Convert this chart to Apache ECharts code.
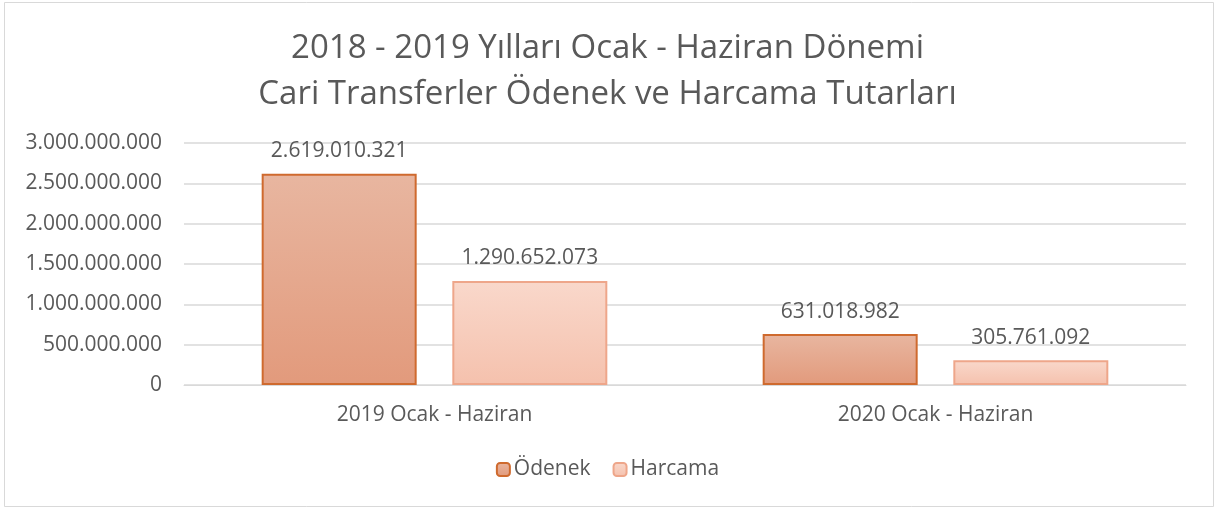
<!DOCTYPE html>
<html><head><meta charset="utf-8">
<script src="https://cdn.jsdelivr.net/npm/echarts@6/dist/echarts.min.js"></script>
<style>html,body{margin:0;padding:0;background:#fff}#c{width:1215px;height:508px}</style>
</head><body><div id="c"></div>
<script>
const titleLines = ["2018 - 2019 Yılları Ocak - Haziran Dönemi", "Cari Transferler Ödenek ve Harcama Tutarları"];
const categories = ["2019 Ocak - Haziran", "2020 Ocak - Haziran"];
const seriesNames = ["Ödenek", "Harcama"];
const odenek = [2619010321, 631018982];
const harcama = [1290652073, 305761092];
const yMax = 3000000000;
const yInterval = 500000000;

function fmt(v){ return String(Math.round(v)).replace(/\B(?=(\d{3})+(?!\d))/g, "."); }
const FONT = "Open Sans";
const chart = echarts.init(document.getElementById('c'), null, {renderer:'canvas'});
chart.setOption({
  backgroundColor:'#fff',
  animation:false,
  textStyle:{fontFamily:FONT},
  title:{
    text: titleLines.join("\n"), left:'center', top:21,
    textStyle:{fontFamily:FONT, fontSize:33, fontWeight:'normal', color:'#595959', lineHeight:46}
  },
  graphic:[{type:'rect', shape:{x:4.5,y:2.5,width:1209,height:504}, style:{fill:'none', stroke:'#d9d9d9', lineWidth:1}, silent:true}],
  legend:{
    data:seriesNames, bottom:23, left:'center', itemWidth:13, itemHeight:13, itemGap:22,
    textStyle:{fontFamily:FONT, fontSize:21, color:'#595959', padding:[0,0,0,-1]}
  },
  grid:{left:184, right:29, top:143, bottom:123},
  xAxis:{
    type:'category', data:categories,
    axisLine:{lineStyle:{color:'#d9d9d9', width:1}}, axisTick:{show:false},
    axisLabel:{fontFamily:FONT, fontSize:21, color:'#595959', margin:20}
  },
  yAxis:{
    type:'value', min:0, max:yMax, interval:yInterval,
    axisLine:{show:false}, axisTick:{show:false},
    splitLine:{lineStyle:{color:'#d9d9d9', width:1.5}},
    axisLabel:{fontFamily:FONT, fontSize:21, color:'#595959', margin:22, formatter:fmt}
  },
  series:[
    {name:seriesNames[0], type:'bar', data:odenek, barWidth:155, barGap:'23%',
     itemStyle:{color:new echarts.graphic.LinearGradient(0,0,0,1,[{offset:0,color:'#e8b6a0'},{offset:1,color:'#e29a7c'}]), borderColor:'#cf6a2e', borderWidth:2},
     label:{show:true, position:'top', distance:12, fontFamily:FONT, fontSize:21, color:'#595959', formatter:p=>fmt(p.value)}},
    {name:seriesNames[1], type:'bar', data:harcama, barWidth:155,
     itemStyle:{color:new echarts.graphic.LinearGradient(0,0,0,1,[{offset:0,color:'#f9d8cb'},{offset:1,color:'#f5c1ad'}]), borderColor:'#eea68a', borderWidth:2},
     label:{show:true, position:'top', distance:12, fontFamily:FONT, fontSize:21, color:'#595959', formatter:p=>fmt(p.value)}}
  ]
});
</script></body></html>
